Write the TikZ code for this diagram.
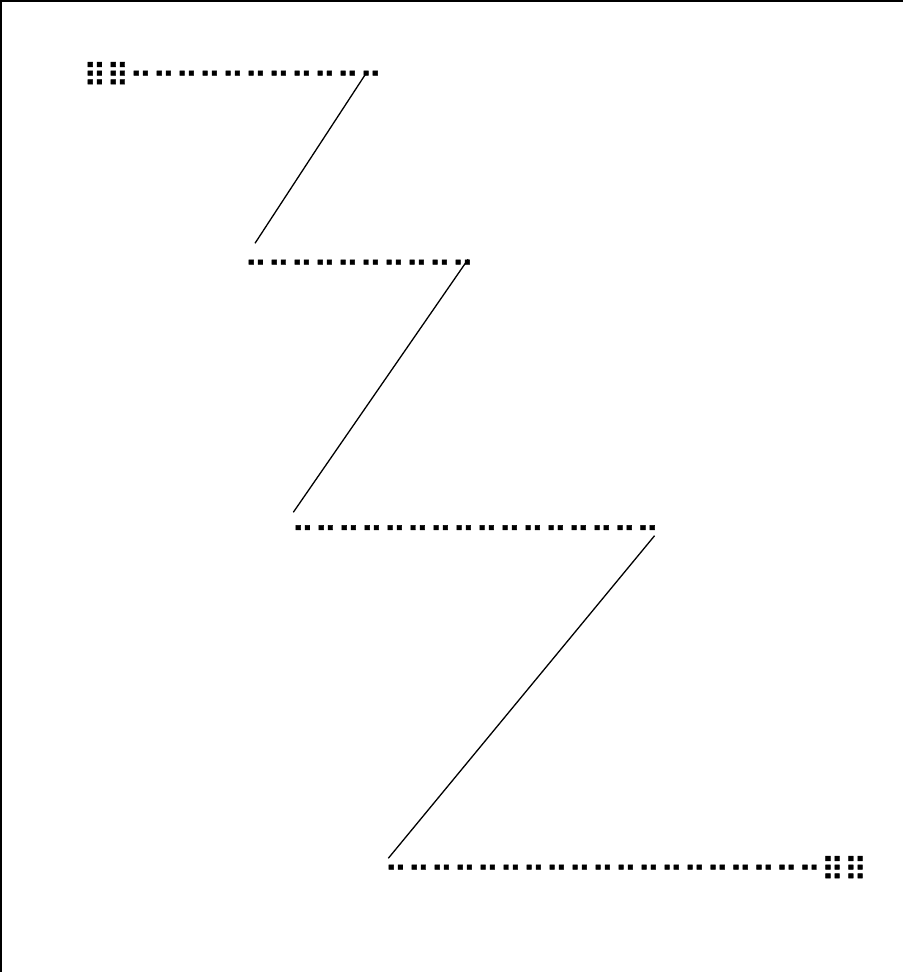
\documentclass[tikz,border=0pt]{standalone}
\usepackage{fontspec}
\newfontfamily\braillefont[FakeBold=1.5]{DejaVu Sans}
\begin{document}
\begin{tikzpicture}[x=1pt, y=-1pt, line width=1.3pt,
    brl/.style={inner sep=0pt, anchor=base west, font=\braillefont\fontsize{31.4}{31.4}\selectfont}]
    \useasboundingbox (0,0) rectangle (903,972);

    % frame
    \draw[line width=1.5pt] (1,972) -- (1,1) -- (903,1);

    % rows of braille cells
    \node[brl] (rowA) at (82.7,86.7) {⠿⠿⠒⠒⠒⠒⠒⠒⠒⠒⠒⠒⠒};
    \node[brl] (rowB) at (243.7,275.7) {⠒⠒⠒⠒⠒⠒⠒⠒⠒⠒};
    \node[brl] (rowC) at (290.7,541.2) {⠒⠒⠒⠒⠒⠒⠒⠒⠒⠒⠒⠒⠒⠒⠒⠒};
    \node[brl] (rowD) at (383.7,880.7) {⠒⠒⠒⠒⠒⠒⠒⠒⠒⠒⠒⠒⠒⠒⠒⠒⠒⠒⠒⠿⠿};

    % slanted strokes from the end of one row to the start of the next
    \draw ([xshift=-16.9pt, yshift=13.4pt]rowA.base east) -- ([xshift=11.3pt, yshift=32.4pt]rowB.base west);
    \draw ([xshift=-6.9pt, yshift=16.4pt]rowB.base east) -- ([xshift=2.6pt, yshift=28.9pt]rowC.base west);
    \draw ([xshift=-5.4pt, yshift=5.5pt]rowC.base east) -- ([xshift=4.6pt, yshift=22.4pt]rowD.base west);
\end{tikzpicture}
\end{document}
